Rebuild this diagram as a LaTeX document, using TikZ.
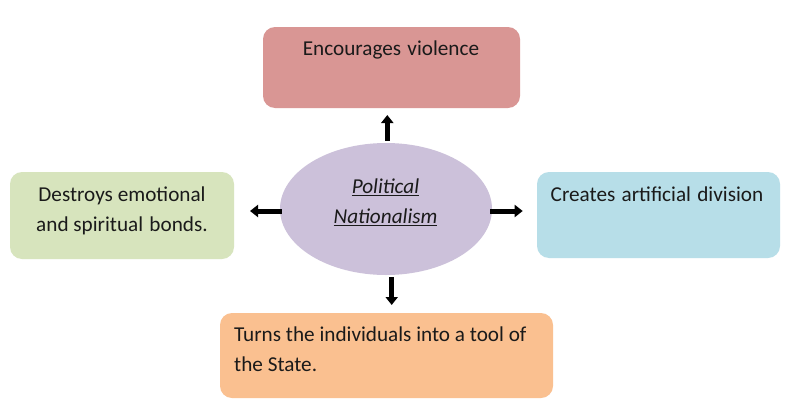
\documentclass[tikz,border=0pt]{standalone}
\usepackage{fontspec}
\setmainfont{Carlito}
\usetikzlibrary{arrows.meta,shapes.geometric}
\definecolor{cTop}{HTML}{D99694}
\definecolor{cLeft}{HTML}{D7E4BD}
\definecolor{cRight}{HTML}{B7DEE8}
\definecolor{cBot}{HTML}{FAC090}
\definecolor{cEll}{HTML}{CCC1DA}
\definecolor{cTxt}{HTML}{1A1A1A}
\begin{document}
\begin{tikzpicture}[x=1pt,y=-1pt,
  box/.style={rectangle,rounded corners=12pt,draw=none,inner sep=0pt},
  txt/.style={font=\fontsize{21.2}{30}\selectfont,text=cTxt,inner sep=0pt,anchor=base},
  arr/.style={line width=5pt,-{Triangle[width=12pt,length=8pt]},black}]
\useasboundingbox (0,0) rectangle (789,415);
\fill[white] (0,0) rectangle (789,415);
% boxes
\node[box,fill=cTop,minimum width=257pt,minimum height=81pt] (top) at (391.5,67.5) {};
\node[box,fill=cLeft,minimum width=224pt,minimum height=87pt] (left) at (122,215.5) {};
\node[box,fill=cRight,minimum width=243pt,minimum height=86pt] (right) at (658.5,215) {};
\node[box,fill=cBot,minimum width=333pt,minimum height=85pt] (bot) at (386.5,355.5) {};
\node[ellipse,fill=cEll,draw=none,minimum width=212pt,minimum height=132pt,inner sep=0pt] (e) at (386,209) {};
% texts
\node[txt] (ttop) at (391,55) {Encourages\hspace{1.5pt} violence};
\node[txt] (tleft1) at (122,201.7) {Destroys emotional};
\node[txt] (tleft2) at (122,231.7) {and spiritual\hspace{1.5pt} bonds.};
\node[txt] (tright) at (657,201.7) {Creates\hspace{1.5pt} artificial\hspace{1.5pt} division};
\node[txt,anchor=base west] (tbot1) at (234,341.7) {Turns the individuals into a tool of};
\node[txt,anchor=base west] (tbot2) at (234,371.7) {the State.};
\node[txt] (te1) at (385.5,193.3) {\textit{\underline{Political}}};
\node[txt] (te2) at (385.5,223.3) {\textit{\underline{Nationalism}}};
% arrow tips
\coordinate (upTip) at (387.3,115);
\coordinate (leftTip) at (250,211);
\coordinate (rightTip) at (522.7,211);
\coordinate (downTip) at (391.7,305);
\draw[arr] ([yshift=2pt]e.north -| upTip) -- (upTip);
\draw[arr] ([xshift=2pt]e.west |- leftTip) -- (leftTip);
\draw[arr] ([xshift=-2pt]e.east |- rightTip) -- (rightTip);
\draw[arr] ([yshift=-2pt]e.south -| downTip) -- (downTip);
\end{tikzpicture}
\end{document}
